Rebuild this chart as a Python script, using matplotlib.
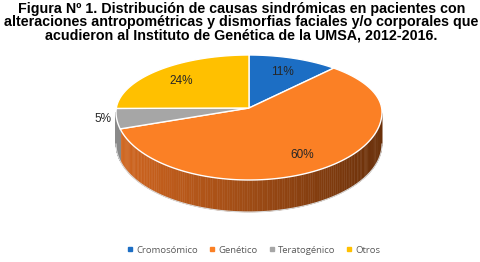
import numpy as np
import matplotlib
matplotlib.use("Agg")
import matplotlib.pyplot as plt
from matplotlib.patches import Polygon
from matplotlib.lines import Line2D
from matplotlib.colors import to_rgb

# data
categories = ["Cromosómico", "Genético", "Teratogénico", "Otros"]
percent = [11, 60, 5, 24]
colors = ["#1C6EC4", "#FB8025", "#A6A6A6", "#FFC000"]
side_light = ["#16589D", "#D2661F", "#8A8A8A", "#CC9A00"]
side_dark = ["#0B2C4F", "#6A300A", "#4A4A4A", "#6E5300"]

title = ("Figura N\u00ba 1. Distribución de causas sindrómicas en pacientes con\n"
         "alteraciones antropométricas y dismorfias faciales y/o corporales que\n"
         "acudieron al Instituto de Genética de la UMSA, 2012-2016.")

W, H = 481, 262
fig = plt.figure(figsize=(W / 100, H / 100), dpi=100)
ax = fig.add_axes([0, 0, 1, 1])
ax.set_xlim(0, W)
ax.set_ylim(H, 0)
ax.axis("off")

# ellipse geometry in pixel coords (front half a bit taller, fake perspective)
cx, cy, rx, ry_back, ry_front, depth = 249, 112, 133, 57, 68, 32
apex = (249, 108)


def pt(theta):
    s = np.sin(theta)
    ry = np.where(s > 0, ry_back, ry_front)
    return cx + rx * np.cos(theta), cy - ry * s


vals = np.array(percent, dtype=float)
angles = 90 - np.concatenate([[0], np.cumsum(vals)]) * 3.6  # clockwise from top

# side walls (only the front half is visible)
for i in range(len(vals)):
    a0, a1 = np.radians(angles[i + 1]), np.radians(angles[i])
    th = np.linspace(a0, a1, 200)
    th = th[(np.sin(th) <= 0)]
    if len(th) < 2:
        continue
    for k in range(len(th) - 1):
        t0, t1 = th[k], th[k + 1]
        f = (np.cos((t0 + t1) / 2) + 1) / 2  # 0 left -> 1 right
        c = (1 - f) * np.array(to_rgb(side_light[i])) + f * np.array(to_rgb(side_dark[i]))
        x0, y0 = pt(t0)
        x1, y1 = pt(t1)
        ax.add_patch(Polygon([(x0, y0), (x1, y1), (x1, y1 + depth), (x0, y0 + depth)],
                             closed=True, fc=c, ec=c, lw=0.3))
# outline of side bottom
tb = np.linspace(np.pi, 2 * np.pi, 200)
bx, by = pt(tb)
ax.plot(bx, by + depth, color="#d9d9d9", lw=0.8)

# top face wedges
for i in range(len(vals)):
    th = np.radians(np.linspace(angles[i], angles[i + 1], 100))
    xs, ys = pt(th)
    poly = [apex] + list(zip(xs, ys))
    ax.add_patch(Polygon(poly, closed=True, fc=colors[i], ec="white", lw=1.0))

# labels
for i, p in enumerate(percent):
    mid = np.radians((angles[i] + angles[i + 1]) / 2)
    r = 0.75 if p >= 10 else 1.1
    x, y = pt(mid)
    x = cx + r * (x - cx)
    y = cy + r * (y - cy)
    ax.text(x, y, f"{p}%", ha="center", va="center", fontsize=8.5,
            family="Liberation Sans", color="#262626")

ax.text(W / 2 + 1, 2, title, ha="center", va="top", fontsize=10.3, fontweight="bold",
        family="Liberation Sans", linespacing=0.93)

handles = [Line2D([], [], marker="s", ls="", color=c, markersize=3.5) for c in colors]
leg = ax.legend(handles, categories, loc="center", bbox_to_anchor=(0.525, 0.045),
                ncol=4, frameon=False, handletextpad=0.05, columnspacing=0.9,
                handlelength=1.2, prop={"family": "Open Sans", "size": 6.8})
for t in leg.get_texts():
    t.set_color("#595959")

fig.savefig("out.png", dpi=100)
